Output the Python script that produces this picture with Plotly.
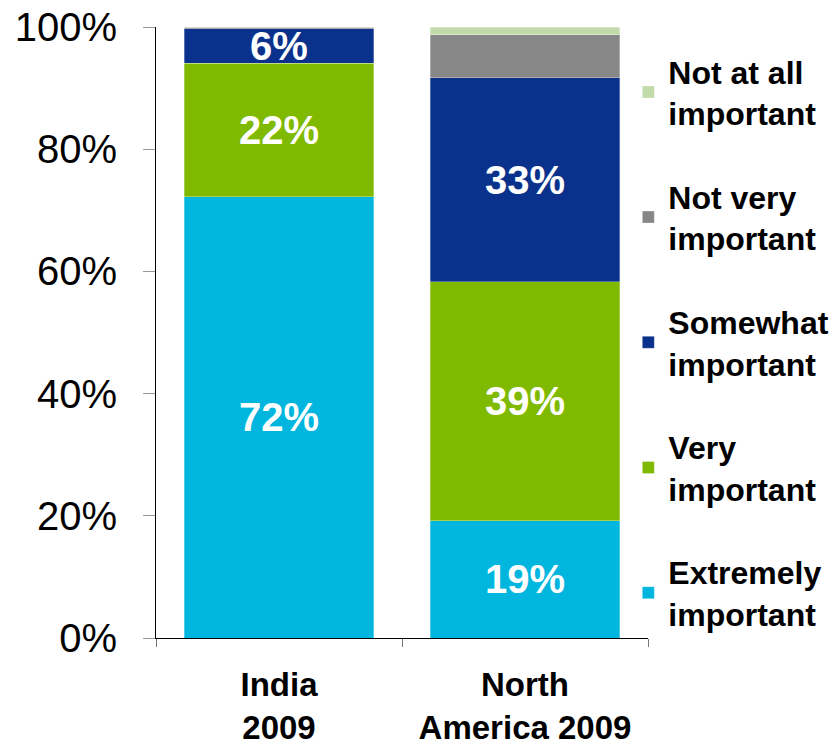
import plotly.graph_objects as go

categories = ["India<br>2009", "North<br>America 2009"]
series_names = ["Extremely<br>important", "Very<br>important", "Somewhat<br>important",
                "Not very<br>important", "Not at all<br>important"]
extremely = [72.2, 19.2]
very = [21.9, 39.1]
somewhat = [5.6, 33.4]
not_very = [0.3, 7.0]
not_at_all = [0.0, 1.3]
bar_labels = [["72%", "19%"], ["22%", "39%"], ["6%", "33%"], ["", ""], ["", ""]]
colors = ["#00B6DE", "#80BA00", "#0A318C", "#878787", "#C2DBAA"]
y_tickvals = [0, 20, 40, 60, 80, 100]
y_ticktext = ["0%", "20%", "40%", "60%", "80%", "100%"]

values = [extremely, very, somewhat, not_very, not_at_all]

fig = go.Figure()
n = len(series_names)
for i, (name, vals, col, lab) in enumerate(zip(series_names, values, colors, bar_labels)):
    fig.add_trace(go.Bar(
        x=categories, y=vals, name=name, legendgroup=str(i), legendrank=n - i,
        marker=dict(color=col, line=dict(color="rgba(255,255,255,0.6)", width=0.5)),
        text=lab, textposition="inside", insidetextanchor="middle",
        textfont=dict(color="white", size=40, family="Liberation Sans", weight="bold"),
        width=0.77, hoverinfo="skip",
    ))

fig.update_layout(
    barmode="stack",
    width=834, height=754,
    margin=dict(l=156, r=186, t=27, b=116, autoexpand=False),
    paper_bgcolor="white", plot_bgcolor="white",
    font=dict(family="Liberation Sans", color="black"),
    uniformtext=dict(mode="show", minsize=40),
    showlegend=True,
    legend=dict(
        traceorder="grouped", tracegroupgap=39,
        x=0.96, xanchor="left", y=0.9725, yanchor="top",
        font=dict(size=32, family="Liberation Sans", weight="bold"),
        bgcolor="rgba(0,0,0,0)",
    ),
    xaxis=dict(
        showline=True, linecolor="black", linewidth=1,
        ticks="outside", tickson="boundaries", ticklen=8, tickcolor="#777",
        tickfont=dict(size=33, family="Liberation Sans", weight="bold"),
        ticklabelstandoff=17,
    ),
    yaxis=dict(
        range=[0, 100], tickvals=y_tickvals, ticktext=y_ticktext,
        showline=True, linecolor="black", linewidth=1,
        ticks="outside", ticklen=12, tickcolor="#999",
        showgrid=False, zeroline=False,
        tickfont=dict(size=40, family="Liberation Sans"),
        ticklabelstandoff=18,
    ),
)

fig.write_html("out.html", config={"displayModeBar": False},
               post_script="document.body.style.margin='0px';document.body.style.overflow='hidden';")
